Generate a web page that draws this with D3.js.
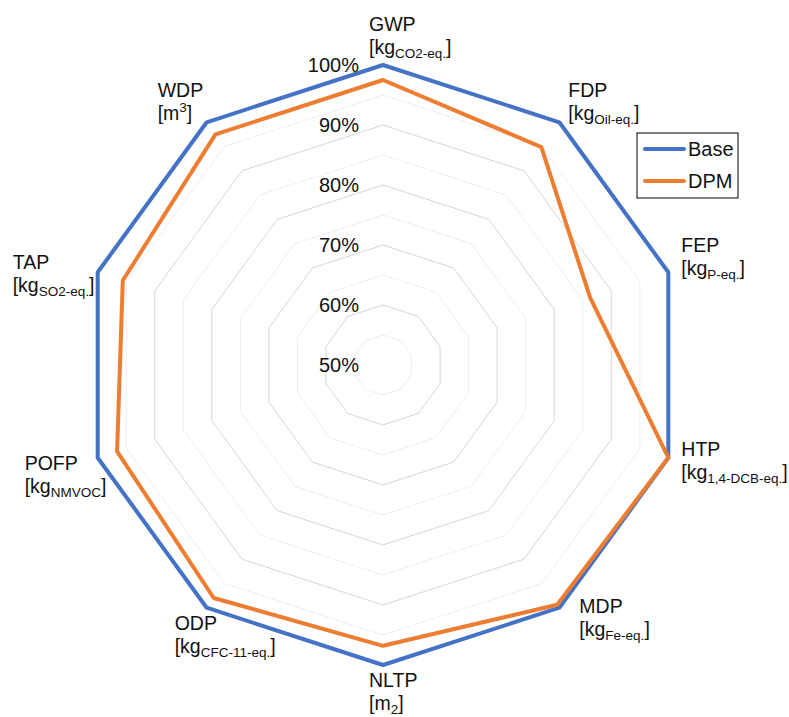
<!DOCTYPE html>
<html>
<head>
<meta charset="utf-8">
<script src="https://cdn.jsdelivr.net/npm/d3@7"></script>
<style>
  body { margin: 0; background: #fff; }
  text { font-family: "Liberation Sans", Arial, sans-serif; fill: #111; }
</style>
</head>
<body>
<div id="chart"></div>
<script>
const categories = ["GWP", "FDP", "FEP", "HTP", "MDP", "NLTP", "ODP", "POFP", "TAP", "WDP"];
// unit line: [prefix, script text, script kind]
const units = [
  ["[kg", "CO2-eq.", "sub"],
  ["[kg", "Oil-eq.", "sub"],
  ["[kg", "P-eq.", "sub"],
  ["[kg", "1,4-DCB-eq.", "sub"],
  ["[kg", "Fe-eq.", "sub"],
  ["[m", "2", "sub"],
  ["[kg", "CFC-11-eq.", "sub"],
  ["[kg", "NMVOC", "sub"],
  ["[kg", "SO2-eq.", "sub"],
  ["[m", "3", "sup"]
];
const seriesNames = ["Base", "DPM"];
const baseValues = [100, 100, 100, 100, 100, 100, 100, 100, 100, 100];
const dpmValues = [97.5, 94.9, 86.3, 100, 99.4, 96.8, 98.0, 96.6, 95.6, 97.5];
const tickValues = [50, 60, 70, 80, 90, 100];
const minorValues = [55, 65, 75, 85, 95];

const width = 789;
const height = 717;
const cx = 383;
const cy = 365;
const colors = ["#4472C4", "#ED7D31"];

// label offsets from each outer vertex (left x, first baseline)
const labelNudge = [
  [-14, -34], [9, -25], [13, -20], [13, -2], [20, 5],
  [-14, 22], [-32, 22], [-73, 12], [-85, -3], [-49, -25]
];

const svg = d3.select("#chart").append("svg")
  .attr("width", width)
  .attr("height", height);

const g = svg.append("g").attr("transform", `translate(${cx},${cy})`);

const r = d3.scaleLinear().domain([50, 100]).range([0, 300]);
const angle = d3.scaleLinear().domain([0, categories.length]).range([0, 2 * Math.PI]);

const ring = (v) => d3.lineRadial()
  .angle((d, i) => angle(i))
  .radius(() => r(v))
  .curve(d3.curveLinearClosed)(categories);

// grid rings
g.append("g").selectAll("path")
  .data(minorValues)
  .join("path")
  .attr("d", (d) => ring(d))
  .attr("fill", "none")
  .attr("stroke", "#eeeeee")
  .attr("stroke-width", 1);

g.append("g").selectAll("path")
  .data(tickValues.filter((d) => d > 50))
  .join("path")
  .attr("d", (d) => ring(d))
  .attr("fill", "none")
  .attr("stroke", "#d6d6d6")
  .attr("stroke-width", 1);

// series
const line = d3.lineRadial()
  .angle((d, i) => angle(i))
  .radius((d) => r(d))
  .curve(d3.curveLinearClosed);

g.append("g").selectAll("path")
  .data([baseValues, dpmValues])
  .join("path")
  .attr("d", (d) => line(d))
  .attr("fill", "none")
  .attr("stroke", (d, i) => colors[i])
  .attr("stroke-width", 4)
  .attr("stroke-linejoin", "round");

// tick labels
g.append("g").selectAll("text")
  .data(tickValues)
  .join("text")
  .attr("x", -24)
  .attr("y", (d) => -r(d))
  .attr("dy", "0.36em")
  .attr("text-anchor", "end")
  .attr("font-size", 20)
  .text((d) => d + "%");

// category labels
const labels = g.append("g").selectAll("g")
  .data(categories)
  .join("g")
  .attr("transform", (d, i) => {
    const a = angle(i);
    const x = Math.sin(a) * r(100) + labelNudge[i][0];
    const y = -Math.cos(a) * r(100) + labelNudge[i][1];
    return `translate(${x},${y})`;
  });

labels.append("text")
  .attr("font-size", 19.5)
  .text((d) => d);

const unitText = labels.append("text")
  .attr("y", 23)
  .attr("font-size", 19.5);

unitText.append("tspan").text((d, i) => units[i][0]);
unitText.append("tspan")
  .attr("font-size", 13.5)
  .attr("dy", (d, i) => (units[i][2] === "sub" ? 4 : -8))
  .text((d, i) => units[i][1]);
unitText.append("tspan")
  .attr("dy", (d, i) => (units[i][2] === "sub" ? -4 : 8))
  .text("]");

// legend
const legend = svg.append("g").attr("transform", "translate(637,133)");
legend.append("rect")
  .attr("width", 101)
  .attr("height", 65)
  .attr("fill", "#fff")
  .attr("stroke", "#000")
  .attr("stroke-width", 1);

const item = legend.selectAll("g.item")
  .data(seriesNames)
  .join("g")
  .attr("class", "item")
  .attr("transform", (d, i) => `translate(0,${16 + i * 32})`);

item.append("line")
  .attr("x1", 8)
  .attr("x2", 47)
  .attr("stroke", (d, i) => colors[i])
  .attr("stroke-width", 4)
  .attr("stroke-linecap", "round");

item.append("text")
  .attr("x", 51)
  .attr("dy", "0.36em")
  .attr("font-size", 20)
  .text((d) => d);
</script>
</body>
</html>
